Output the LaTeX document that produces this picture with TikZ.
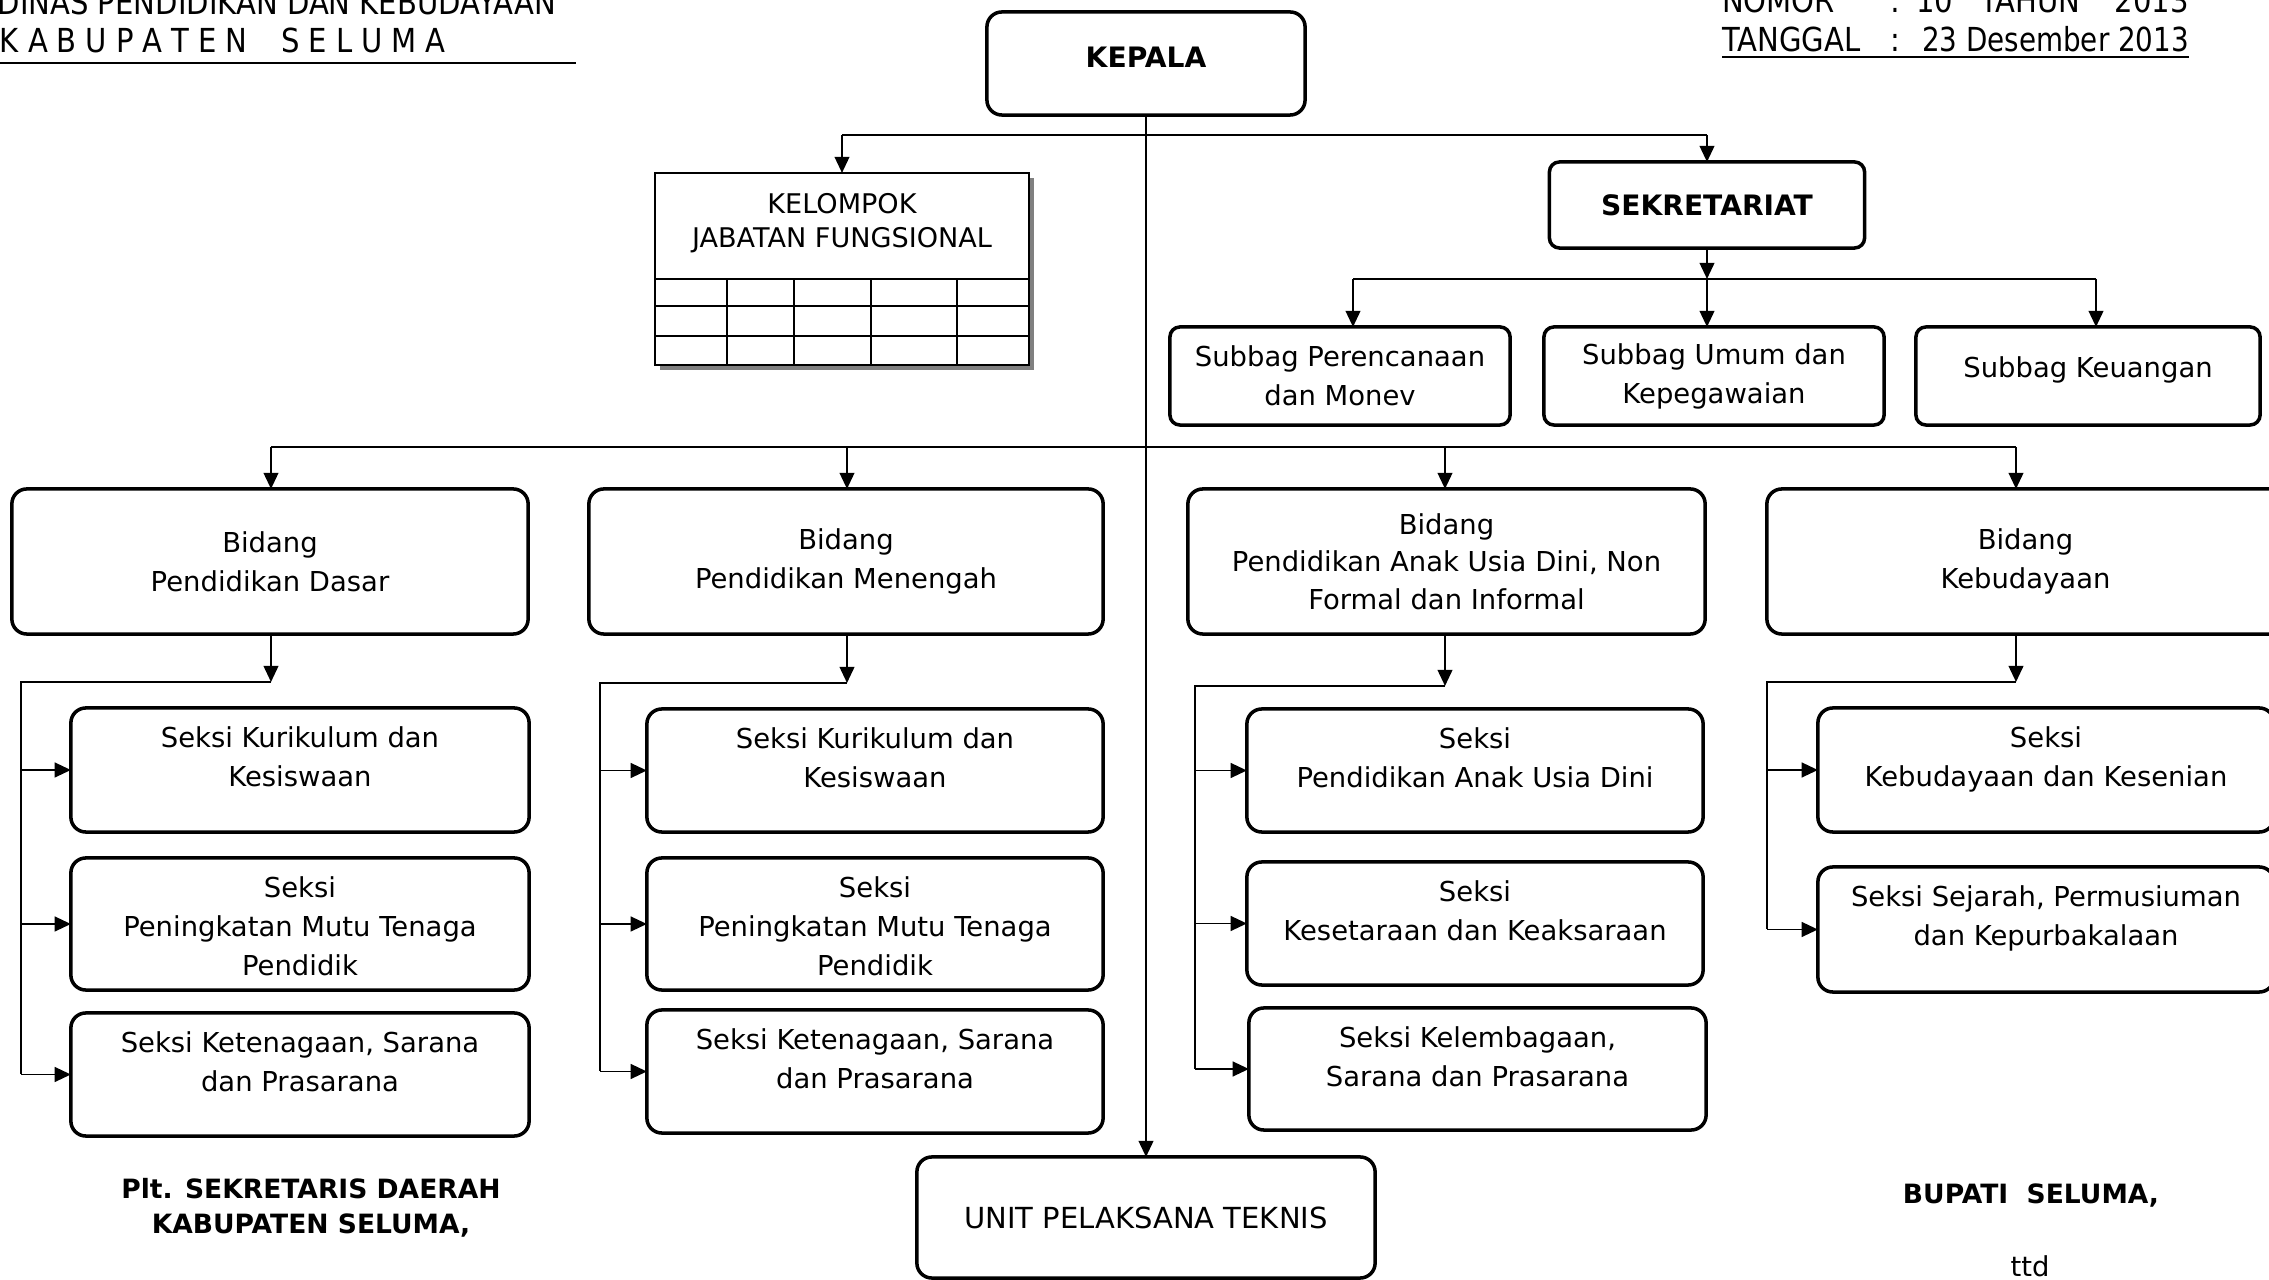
\documentclass[tikz,border=0pt]{standalone}
\usepackage{fontspec}
\setmainfont{DejaVu Sans}
\usetikzlibrary{arrows.meta,shadows}
\newcommand\bodyfont{\fontsize{7.8pt}{11.1pt}\selectfont}
\newcommand\titlefont{\fontsize{8pt}{10pt}\selectfont\bfseries}
\newcommand\kjffont{\fontsize{7.7pt}{9.7pt}\selectfont}
\newcommand\unitfont{\fontsize{8.25pt}{10pt}\selectfont}
\newcommand\sigfont{\fontsize{7.55pt}{9.96pt}\selectfont\bfseries}
\newcommand\hdrfont{\fontsize{9.4pt}{11pt}\selectfont}
\newcommand\hx[1]{\scalebox{0.88}[1]{#1}}
\newcommand\hxn[1]{\scalebox{0.84}[1]{#1}}
\newcommand\lsp{\hspace{2.9pt}}
\tikzset{
 conn/.style={line width=0.55pt},
 arr/.style={line width=0.55pt,-{Triangle[length=4.6pt,width=4.2pt]}},
 busline/.style={line width=0.8pt},
 rbox/.style={draw,line width=1pt,rounded corners=0.15cm,inner sep=0pt,outer sep=0pt,align=center,font=\bodyfont,fill=white},
 sbox/.style={rbox,rounded corners=0.1cm},
 stext/.style={inner sep=0pt,outer sep=0pt,align=center,font=\bodyfont,anchor=north},
 plain/.style={inner sep=0pt,outer sep=0pt},
}
% name, x, y, width, height, text
\newcommand\sx[6]{%
 \node[rbox,minimum width=#4,minimum height=#5] (#1) at (#2,#3) {};
 \node[stext] (#1t) at ([yshift=-0.19cm]#1.north) {#6};}
\begin{document}
\begin{tikzpicture}[x=0.01cm,y=-0.01cm]
\useasboundingbox (0,0) rectangle (2269,1280);
\clip (0,0) rectangle (2269,1280);
\fill[white] (0,0) rectangle (2269,1280);

% ---------- header left
\node[plain,font=\hdrfont,anchor=base east] (hd1) at (556,15) {\hx{DINAS PENDIDIKAN DAN KEBUDAYAAN}};
\node[plain,font=\hdrfont,anchor=base west] (hd2) at (0,53) {\hx{K\lsp A\lsp B\lsp U\lsp P\lsp A\lsp T\lsp E\lsp N\hspace{11pt}S\lsp E\lsp L\lsp U\lsp M\lsp A}};
\coordinate (ula) at (0,63); \coordinate (ulb) at (576,63);
\draw[line width=0.75pt] (ula) -- (ulb);

% ---------- header right
\node[plain,font=\hdrfont,anchor=base west] (nom) at (1722,13) {\hx{NOMOR}};
\node[plain,font=\hdrfont,anchor=base] (nomc) at (1895,13) {\hx{:}};
\node[plain,font=\hdrfont,anchor=base west] (nomn) at (1916,13) {\hx{10}};
\node[plain,font=\hdrfont,anchor=base west] (tah) at (1980,13) {\hx{TAHUN}};
\node[plain,font=\hdrfont,anchor=base east] (tahn) at (2189,13) {\hx{2013}};
\node[plain,font=\hdrfont,anchor=base west] (tgl) at (1722,52) {\hx{TANGGAL}};
\node[plain,font=\hdrfont,anchor=base] (tglc) at (1895,52) {\hx{:}};
\node[plain,font=\hdrfont,anchor=base east] (tgln) at (2189,52) {\hxn{23 Desember 2013}};
\coordinate (ura) at (1722,57); \coordinate (urb) at (2189,57);
\draw[line width=0.6pt] (ura) -- (urb);

% ---------- KEPALA
\node[rbox,minimum width=3.18cm,minimum height=1.03cm] (kep) at (1146,63.5) {};
\node[plain,font=\titlefont] (kept) at ([yshift=0.06cm]kep.center) {KEPALA};
\coordinate (t0) at (842,135); \coordinate (t2) at (1707,135);
\draw[conn] (t0) -- (t2);

% ---------- Kelompok jabatan fungsional
\node[draw,line width=0.6pt,fill=white,inner sep=0pt,outer sep=0pt,minimum width=3.74cm,minimum height=1.92cm,
      drop shadow={shadow xshift=0.05cm,shadow yshift=-0.05cm,fill=black!50,opacity=1}] (kjf) at (842,269) {};
\node[plain,font=\kjffont,align=center,anchor=north] (kjft) at ([yshift=-0.2cm]kjf.north) {KELOMPOK\\JABATAN FUNGSIONAL};
\draw[line width=0.6pt] (655,279) -- (1029,279) (655,306) -- (1029,306) (655,336) -- (1029,336)
  (727,279) -- (727,365) (794,279) -- (794,365) (871,279) -- (871,365) (957,279) -- (957,365);
\draw[arr] (t0) -- (kjf.north);

% ---------- Sekretariat
\node[rbox,font=\titlefont,minimum width=3.15cm,minimum height=0.86cm,rounded corners=0.1cm] (sek) at (1707,205) {SEKRETARIAT};
\draw[arr] (t2) -- (sek.north);
\node[sbox,minimum width=3.4cm,minimum height=0.98cm] (sp) at (1340,376) {Subbag Perencanaan\\dan Monev};
\node[sbox,minimum width=3.4cm,minimum height=0.98cm] (su) at (1714,376) {Subbag Umum dan\\Kepegawaian};
\node[sbox,minimum width=3.44cm,minimum height=0.98cm] (sk) at (2088,376) {};
\node[plain,font=\bodyfont] (skt) at ([yshift=0.06cm]sk.center) {Subbag Keuangan};
\coordinate (u0) at (1353,279); \coordinate (u1) at (1707,279); \coordinate (u2) at (2096,279);
\draw[arr] (sek.south) -- (u1);
\draw[conn] (u0) -- (u2);
\draw[arr] (u0) -- (u0 |- sp.north);
\draw[arr] (u1) -- (u1 |- su.north);
\draw[arr] (u2) -- (u2 |- sk.north);

% ---------- Bidang row
\node[rbox,minimum width=5.16cm,minimum height=1.45cm] (b1) at (270,561.5) {Bidang\\Pendidikan Dasar};
\node[rbox,minimum width=5.14cm,minimum height=1.45cm] (b2) at (846,561.5) {Bidang\\Pendidikan Menengah};
\node[rbox,minimum width=5.17cm,minimum height=1.45cm,font=\fontsize{7.8pt}{10.7pt}\selectfont] (b3) at (1446.5,561.5) {Bidang\\Pendidikan Anak Usia Dini, Non\\Formal dan Informal};
\node[rbox,minimum width=5.17cm,minimum height=1.45cm] (b4) at (2025.5,561.5) {Bidang\\Kebudayaan};
\coordinate (m1) at (271,447); \coordinate (m2) at (847,447); \coordinate (m3) at (1445,447); \coordinate (m4) at (2016,447);
\draw[busline] (m1) -- (m4);
\draw[arr] (m1) -- (m1 |- b1.north);
\draw[arr] (m2) -- (m2 |- b2.north);
\draw[arr] (m3) -- (m3 |- b3.north);
\draw[arr] (m4) -- (m4 |- b4.north);

% ---------- column 1
\sx{k1}{300}{770}{4.58cm}{1.24cm}{Seksi Kurikulum dan\\Kesiswaan}
\sx{p1}{300}{924}{4.58cm}{1.32cm}{Seksi\\Peningkatan Mutu Tenaga\\Pendidik}
\sx{r1}{300}{1074.5}{4.58cm}{1.23cm}{Seksi Ketenagaan, Sarana\\dan Prasarana}
\coordinate (c1) at (271,682); \coordinate (c1l) at (21,682);
\draw[arr] (m1 |- b1.south) -- (c1);
\draw[conn] (c1) -- (c1l) -- (c1l |- r1.west);
\draw[arr] (c1l |- k1.west) -- (k1.west);
\draw[arr] (c1l |- p1.west) -- (p1.west);
\draw[arr] (c1l |- r1.west) -- (r1.west);

% ---------- column 2
\sx{k2}{875}{770.5}{4.56cm}{1.23cm}{Seksi Kurikulum dan\\Kesiswaan}
\sx{p2}{875}{924}{4.56cm}{1.32cm}{Seksi\\Peningkatan Mutu Tenaga\\Pendidik}
\sx{r2}{875}{1071.5}{4.56cm}{1.23cm}{Seksi Ketenagaan, Sarana\\dan Prasarana}
\coordinate (c2) at (847,683); \coordinate (c2l) at (600,683);
\draw[arr] (m2 |- b2.south) -- (c2);
\draw[conn] (c2) -- (c2l) -- (c2l |- r2.west);
\draw[arr] (c2l |- k2.west) -- (k2.west);
\draw[arr] (c2l |- p2.west) -- (p2.west);
\draw[arr] (c2l |- r2.west) -- (r2.west);

% ---------- column 3
\sx{k3}{1475}{770.5}{4.56cm}{1.23cm}{Seksi\\Pendidikan Anak Usia Dini}
\sx{p3}{1475}{923.5}{4.56cm}{1.23cm}{Seksi\\Kesetaraan dan Keaksaraan}
\sx{r3}{1477.5}{1069}{4.57cm}{1.22cm}{Seksi Kelembagaan,\\Sarana dan Prasarana}
\coordinate (c3) at (1445,686); \coordinate (c3l) at (1195,686);
\draw[arr] (m3 |- b3.south) -- (c3);
\draw[conn] (c3) -- (c3l) -- (c3l |- r3.west);
\draw[arr] (c3l |- k3.west) -- (k3.west);
\draw[arr] (c3l |- p3.west) -- (p3.west);
\draw[arr] (c3l |- r3.west) -- (r3.west);

% ---------- column 4
\sx{k4}{2046}{770}{4.56cm}{1.24cm}{Seksi\\Kebudayaan dan Kesenian}
\sx{p4}{2046}{929.5}{4.56cm}{1.25cm}{Seksi Sejarah, Permusiuman\\dan Kepurbakalaan}
\coordinate (c4) at (2016,682); \coordinate (c4l) at (1767,682);
\draw[arr] (m4 |- b4.south) -- (c4);
\draw[conn] (c4) -- (c4l) -- (c4l |- p4.west);
\draw[arr] (c4l |- k4.west) -- (k4.west);
\draw[arr] (c4l |- p4.west) -- (p4.west);

% ---------- Unit pelaksana teknis
\node[rbox,font=\unitfont,minimum width=4.58cm,minimum height=1.21cm] (unit) at (1146,1217.5) {UNIT PELAKSANA TEKNIS};
\draw[arr] (kep.south) -- (unit.north);

% ---------- signatures
\node[plain,font=\sigfont,align=center,anchor=north] (sig1) at (311,1178) {Plt. SEKRETARIS DAERAH\\KABUPATEN SELUMA,};
\node[plain,font=\sigfont,anchor=base] (sig2) at (2031,1204) {BUPATI\ \ SELUMA,};
\node[plain,font=\bodyfont,anchor=base] (ttd) at (2030,1277) {ttd};
\end{tikzpicture}
\end{document}
